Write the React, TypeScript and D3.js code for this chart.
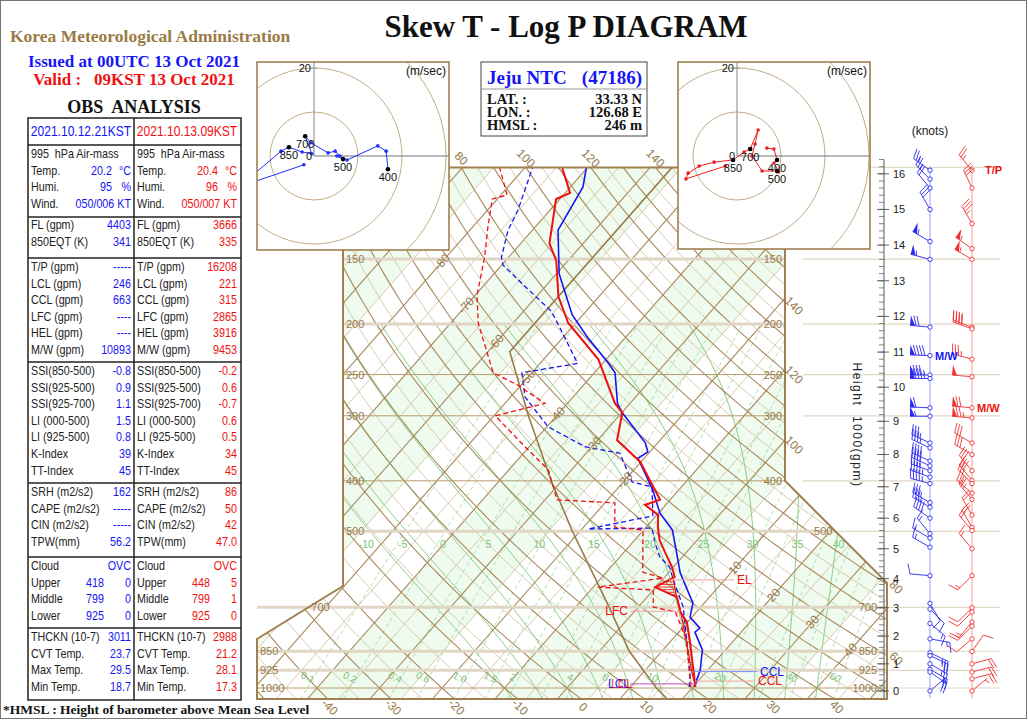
import React from 'react';
import * as d3 from 'd3';

// ---------- sounding, 2021.10.13 09KST (current, red) ----------
const curTempP = [995, 911, 809, 747, 714, 669, 640, 612, 586, 550, 520, 491, 465, 445, 435, 399, 368, 334, 296, 284, 234, 199, 177, 151, 140, 115, 112, 100];
const curTempT = [20.4, 17.2, 12.9, 9.9, 7.4, 4.8, -0.1, 1.6, -0.2, -3.3, -6.0, -8.1, -9.8, -13.3, -11.6, -16.0, -20.1, -26.9, -29.9, -32.4, -41.2, -51.2, -56.5, -61.9, -65.4, -70.6, -69.2, -74.1];
const curDewP = [995, 809, 714, 699, 648, 640, 615, 599, 497, 491, 441, 435, 381, 344, 300, 284, 262, 248, 199, 176, 149, 130, 115, 113, 100];
const curDewT = [19.6, 12.4, 6.6, 2.4, 0.0, -9.3, -0.1, -4.2, -10.1, -15.0, -18.4, -28.1, -33.7, -40.7, -49.8, -43.6, -50.5, -56.2, -65.6, -69.7, -73.8, -77.6, -80.8, -79.0, -84.1];
const parcelP = [995, 936, 809, 718, 663, 620];
const parcelT = [20.4, 17.9, 12.3, 7.7, 4.4, 1.8];

// ---------- sounding, 2021.10.12 21KST (previous, blue) ----------
const prevTempP = [995, 924, 845, 781, 767, 731, 687, 601, 560, 497, 461, 417, 362, 352, 338, 296, 284, 248, 237, 212, 192, 160, 132, 109, 100];
const prevTempT = [20.2, 18.8, 16.3, 12.6, 12.8, 9.7, 8.2, 1.9, -0.8, -5.4, -9.8, -14.1, -21.0, -20.3, -22.0, -29.9, -32.0, -36.7, -39.3, -46.1, -51.7, -59.6, -65.9, -68.0, -70.2];
const prevDewP = [995, 936, 809, 699, 620, 586, 560, 527, 493, 495, 467, 411, 402, 354, 344, 315, 276, 248, 238, 217, 194, 188, 167, 154, 149, 132, 121, 100];
const prevDewT = [19.4, 17.6, 12.4, 7.2, 1.8, -0.6, -3.6, -6.3, -8.9, -19.0, -10.5, -14.7, -18.6, -24.6, -31.1, -39.8, -47.7, -51.6, -44.0, -48.6, -54.2, -55.9, -64.2, -69.8, -71.1, -73.9, -75.1, -78.8];

// ICAO standard atmosphere (drawn as reference line)
const stdAtmP = [1050, 1000, 850, 700, 500, 400, 300, 226, 100];
const stdAtmT = [17.6, 14.3, 4.8, -4.6, -21.2, -31.7, -44.5, -56.5, -56.5];

// ---------- diagram labels ----------
const pressureLevels = [150, 200, 250, 300, 400, 500, 700, 850, 925, 1000];
const heavyLevels = [150, 200, 500, 700, 850, 925];
const isothermLabels = [-80, -70, -60, -50, -40, -30, -20, 10, 20, 30, 40];
const isothermLabelP = [152, 184, 217, 254, 299, 341, 399, 588, 663, 747, 845];
const thetaBottom = [-40, -30, -20, -10, 0, 10, 20, 30, 40];
const thetaTop = [80, 100, 120, 140];
const thetaRight = [140, 120, 100, 80, 60];
const thetaW = [-10, -5, 0, 5, 10, 15, 20, 25, 30, 35, 40];
const mixRatios = [0.1, 0.2, 0.4, 0.6, 1, 1.5, 2, 3, 4, 6, 8, 10, 15, 20, 30, 40, 50, 60];
const mixLabels = ['0.1', '0.2', '0.4', '0.6', '1.0', '1.5', '2', '', '4', '6', '', '10', '', '20', '', '40', '', '60'];
const greenBandStart = [-100, -70, -40, -10, 20, 50];
const greenBandWidth = 15;

// ---------- hodographs (m/s) ----------
const prevHodoU = [-2.3, -17, -7.5, -5.7, -2.7, -0.5, -2.0, -0.7, 3.2, 4.8, 5.9, 5.2, 6.6, 7.5, 14.5, 16.4, 16.8];
const prevHodoV = [-2.0, -7, 1.1, 2.0, 0.9, 0.5, 4.5, 3.0, 0.7, 1.1, 0.0, 0.0, -0.7, -0.9, 2.3, 1.1, -3.0];
const prevHodoKeys: [string, number, number][] = [['850', -5.7, 2.0], ['700', -2.0, 4.5], ['500', 6.6, -0.7], ['400', 16.8, -3.0]];
const curHodoU = [-2.7, -11.6, -11.1, -8.6, -5.2, -0.9, 1.6, 3.0, 4.8, 4.1, 3.4, 5.7, 9.1, 9.5, 8.4, 9.1, 8.4, 6.8];
const curHodoV = [-2.3, -5.2, -3.9, -2.3, -1.4, -0.9, 0.9, 1.6, 5.9, 2.7, 0.0, -3.4, -3.4, -3.6, -1.6, -0.9, 1.6, 1.8];
const curHodoKeys: [string, number, number][] = [['850', -0.9, -0.9], ['700', 3.0, 1.6], ['500', 9.1, -3.4], ['400', 9.1, -0.9]];

// ---------- winds (km, direction, knots) ----------
const prevWinds: [number, number, number][] = [
  [16.1, 305, 25], [15.85, 315, 25], [15.6, 320, 20], [15.0, 330, 30], [14.1, 300, 55], [13.6, 285, 55],
  [11.7, 275, 70], [10.9, 272, 90], [10.35, 270, 85], [10.25, 270, 85], [9.4, 272, 60], [9.15, 270, 55],
  [8.35, 295, 35], [8.2, 295, 35], [7.8, 295, 40], [7.65, 295, 40], [7.5, 290, 40], [7.3, 290, 45], [7.1, 285, 45],
  [6.5, 300, 35], [6.35, 300, 35], [6.0, 305, 40], [5.5, 320, 15], [5.35, 300, 15], [5.05, 300, 15],
  [4.1, 275, 10], [3.15, 150, 10], [2.95, 135, 10], [2.45, 130, 15], [1.9, 100, 15], [1.4, 115, 25],
  [1.3, 115, 25], [1.0, 120, 25], [0.8, 120, 20], [0.7, 125, 20], [0.0, 50, 6],
];
const curWinds: [number, number, number][] = [
  [16.1, 320, 25], [15.6, 335, 30], [14.6, 330, 35], [13.9, 305, 55], [13.6, 300, 55],
  [11.7, 290, 40], [11.65, 290, 40], [10.8, 285, 35], [10.3, 275, 50], [9.4, 275, 70], [9.1, 275, 75],
  [8.35, 300, 30], [8.0, 300, 30], [7.5, 320, 30], [7.2, 320, 30], [7.1, 315, 25], [6.8, 310, 25], [6.6, 320, 25],
  [6.1, 330, 20], [5.7, 330, 20], [5.6, 320, 20], [5.0, 320, 15], [4.1, 225, 15], [3.0, 225, 10], [2.85, 225, 10],
  [2.5, 220, 15], [2.35, 225, 15], [1.9, 230, 10], [1.45, 35, 10], [1.0, 75, 20], [0.7, 75, 20], [0.45, 75, 20], [0.0, 50, 7],
];
const heightTicks = d3.range(0, 17);

// ---------- obs table ----------
const tableHeads = ['2021.10.12.21KST', '2021.10.13.09KST'];
const airLabels = ['Temp.', 'Humi.', 'Wind.'];
const prevAir = ['20.2', '95', '050/006 KT'];
const curAir = ['20.4', '96', '050/007 KT'];
const airUnits = ['°C', '%', ''];
const secLabels = [
  ['FL (gpm)', '850EQT (K)'],
  ['T/P (gpm)', 'LCL (gpm)', 'CCL (gpm)', 'LFC (gpm)', 'HEL (gpm)', 'M/W (gpm)'],
  ['SSI(850-500)', 'SSI(925-500)', 'SSI(925-700)', 'LI (000-500)', 'LI (925-500)', 'K-Index', 'TT-Index'],
  ['SRH (m2/s2)', 'CAPE (m2/s2)', 'CIN (m2/s2)', 'TPW(mm)'],
];
const prevSec = [['4403', '341'], ['-----', '246', '663', '----', '----', '10893'], ['-0.8', '0.9', '1.1', '1.5', '0.8', '39', '45'], ['162', '-----', '-----', '56.2']];
const curSec = [['3666', '335'], ['16208', '221', '315', '2865', '3916', '9453'], ['-0.2', '0.6', '-0.7', '0.6', '0.5', '34', '45'], ['86', '50', '42', '47.0']];
const cloudLabels = ['Upper', 'Middle', 'Lower'];
const prevCloud = [['418', '0'], ['799', '0'], ['925', '0']];
const curCloud = [['448', '5'], ['799', '1'], ['925', '0']];
const thickLabels = ['THCKN (10-7)', 'CVT Temp.', 'Max Temp.', 'Min Temp.'];
const prevThick = ['3011', '23.7', '29.5', '18.7'];
const curThick = ['2988', '21.2', '28.1', '17.3'];

const SERIF = "'Liberation Serif', 'Times New Roman', serif";
const SANS = "'Liberation Sans', Arial, sans-serif";
const BLUE = '#1515f5';
const RED = '#f01010';
const BROWN = '#a08050';
const LABEL_BROWN = '#96784a';

// log-p skew-T geometry
const yP = d3.scaleLog().domain([1000, 100]).range([688, 688 - 226.1 * Math.LN10]);
const tX = d3.scaleLinear().domain([0, 10]).range([567, 629.5]);
const SKEW = 0.88;
const sx = (T: number, p: number) => tX(T) + SKEW * (688 - yP(p));
const Y_TOP = yP(100);
const Y_BOT = yP(1050);
const rightEdge = (y: number) => (y <= yP(400) ? 785 : y <= yP(400) + 102 ? 785 + (y - yP(400)) : 887);
const leftEdge = (y: number) => (y <= 586 ? 343 : y <= 639 ? 343 - ((y - 586) * 86) / 53 : 257);
const frame: [number, number][] = [[343, Y_TOP], [785, Y_TOP], [785, yP(400)], [887, yP(400) + 102], [887, Y_BOT], [257, Y_BOT], [257, 639], [343, 586]];

const dryT = (th: number, p: number) => (th + 273.15) * Math.pow(p / 1000, 0.2857) - 273.15;
function dTdp(T: number, p: number) {
  const Tk = T + 273.15;
  const es = 6.112 * Math.exp((17.67 * T) / (T + 243.5));
  const rs = (0.622 * es) / (p - es);
  return (287.04 * Tk + 2.501e6 * rs) / (p * (1005.7 + (2.501e6 * 2.501e6 * rs * 0.622) / (287.04 * Tk * Tk)));
}
function moistCurve(tw: number): [number, number][] {
  const up: [number, number][] = [];
  let T = tw;
  for (let p = 1000; p >= 200; p -= 5) {
    up.push([p, T]);
    const k1 = dTdp(T, p);
    const k2 = dTdp(T - 2.5 * k1, p - 2.5);
    T -= 5 * k2;
  }
  const down: [number, number][] = [];
  T = tw;
  for (let p = 1000; p < 1050; p += 5) {
    const k1 = dTdp(T, p);
    T += 5 * dTdp(T + 2.5 * k1, p + 2.5);
    down.unshift([p + 5, T]);
  }
  return [...down, ...up];
}
const mixT = (w: number, p: number) => {
  const e = (w * p) / (622 + w);
  const l = Math.log(e / 6.112);
  return (243.5 * l) / (17.67 - l);
};
function interpT(P: number[], T: number[], p: number) {
  for (let i = 0; i < P.length - 1; i++) {
    if (p <= P[i] && p >= P[i + 1]) {
      const f = Math.log(P[i] / p) / Math.log(P[i] / P[i + 1]);
      return T[i] + f * (T[i + 1] - T[i]);
    }
  }
  return NaN;
}

const profLine = (P: number[], T: number[]) =>
  d3.line<number>().x((_, i) => sx(T[i], P[i])).y((_, i) => yP(P[i]))(P) || '';

// condensed text (the table uses a narrow face)
function NText({ x, y, fill, anchor, size = 12.5, children }: { x: number; y: number; fill: string; anchor?: string; size?: number; children: React.ReactNode }) {
  return (
    <text transform={`translate(${x},${y}) scale(0.86,1)`} fill={fill} fontSize={size} fontFamily={SANS} textAnchor={anchor || 'start'} style={{ whiteSpace: 'pre' }}>
      {children}
    </text>
  );
}

function Diagram() {
  const pAll = d3.range(1050, 99, -10);
  const isotherms = d3.range(-160, 65, 5);
  const dryLines = d3.range(-60, 265, 5);
  const moist = thetaW.map((tw) => moistCurve(tw));
  const curveLine = d3.line<[number, number]>().x((d) => sx(d[1], d[0])).y((d) => yP(d[0]));
  const mixP = d3.range(1050, 195, -25);

  const hatch: { y: number; x1: number; x2: number; warm: boolean }[] = [];
  for (let y = yP(parcelP[0]) - 1; y >= yP(parcelP[parcelP.length - 1]); y -= 2.6) {
    const p = yP.invert(y);
    const te = interpT(curTempP, curTempT, p);
    const tp = interpT(parcelP, parcelT, p);
    if (isNaN(te) || isNaN(tp)) continue;
    hatch.push({ y, x1: sx(te, p), x2: sx(tp, p), warm: tp > te });
  }

  const markers = [
    { name: 'LFC', p: 712, color: RED, side: 'left', x0: 628 },
    { name: 'EL', p: 620, color: RED, side: 'right', x0: 737 },
    { name: 'CCL', p: 930, color: BLUE, side: 'right', x0: 760 },
    { name: 'CCL', p: 970, color: RED, side: 'right', x0: 758 },
  ];
  const clipPts = frame.map((d) => d.join(',')).join(' ');

  return (
    <g>
      <defs>
        <clipPath id="skewClip">
          <polygon points={clipPts} />
        </clipPath>
      </defs>
      <polygon points={clipPts} fill="#fff" />
      <g clipPath="url(#skewClip)">
        {greenBandStart.map((t) => (
          <polygon
            key={'b' + t}
            points={[[sx(t, 1050), Y_BOT], [sx(t + greenBandWidth, 1050), Y_BOT], [sx(t + greenBandWidth, 100), Y_TOP], [sx(t, 100), Y_TOP]].map((d) => d.join(',')).join(' ')}
            fill="#effbee"
          />
        ))}
        {mixRatios.map((w) => (
          <path key={'w' + w} d={d3.line<number>().x((p) => sx(mixT(w, p), p)).y((p) => yP(p))(mixP) || ''} fill="none" stroke="#9bd89b" strokeWidth={0.8} strokeDasharray="4,3" />
        ))}
        {moist.map((c, i) => (
          <path key={'m' + i} d={curveLine(c) || ''} fill="none" stroke="#86cc86" strokeWidth={1} />
        ))}
        {isotherms.map((t) => (
          <line key={'t' + t} x1={sx(t, 1050)} y1={Y_BOT} x2={sx(t, 100)} y2={Y_TOP} stroke={t % 10 === 0 ? '#a8895a' : '#c9b48e'} strokeWidth={t % 10 === 0 ? 1.1 : 0.7} />
        ))}
        {dryLines.map((th) => (
          <path key={'d' + th} d={d3.line<number>().x((p) => sx(dryT(th, p), p)).y((p) => yP(p))(pAll) || ''} fill="none" stroke={th % 10 === 0 ? '#a8895a' : '#c9b48e'} strokeWidth={th % 10 === 0 ? 1.1 : 0.7} />
        ))}
        {pressureLevels.map((p) => (
          <line key={'p' + p} x1={250} x2={900} y1={yP(p)} y2={yP(p)} stroke={heavyLevels.includes(p) ? '#e0d6c4' : '#b89c6c'} strokeWidth={heavyLevels.includes(p) ? 3 : 1} />
        ))}
        <path d={profLine(stdAtmP, stdAtmT)} fill="none" stroke="#9a7a48" strokeWidth={1.6} />
        {hatch.map((h, i) => (
          <line key={'h' + i} x1={h.x1} x2={h.x2} y1={h.y} y2={h.y} stroke={h.warm ? RED : '#222'} strokeWidth={0.8} strokeDasharray={h.warm ? undefined : '1.5,1'} />
        ))}
        <path d={profLine(prevDewP, prevDewT)} fill="none" stroke={BLUE} strokeWidth={1.3} strokeDasharray="5,3" />
        <path d={profLine(curDewP, curDewT)} fill="none" stroke={RED} strokeWidth={1.3} strokeDasharray="5,3" />
        <path d={profLine(prevTempP, prevTempT)} fill="none" stroke={BLUE} strokeWidth={1.6} />
        <path d={profLine(parcelP, parcelT)} fill="none" stroke={RED} strokeWidth={1.2} />
        <path d={profLine(curTempP, curTempT)} fill="none" stroke={RED} strokeWidth={2} />
      </g>
      <line x1={257} x2={leftEdge(yP(700))} y1={yP(700)} y2={yP(700)} stroke="#e0d6c4" strokeWidth={3} />
      <polygon points={clipPts} fill="none" stroke={BROWN} strokeWidth={2} />

      {/* lifted levels */}
      <line x1={630} x2={sx(20.2, 982)} y1={yP(982)} y2={yP(982)} stroke="#c050c0" strokeWidth={1} />
      <text x={608} y={yP(982) + 4} fill={BLUE} fontSize={12} fontFamily={SANS}>LCL</text>
      <text x={611} y={yP(982) + 4} fill={RED} fontSize={12} fontFamily={SANS} opacity={0.8}>LCL</text>
      {markers.map((m, i) => {
        const y = yP(m.p);
        const xp = sx(interpT(curTempP, curTempT, m.p), m.p);
        return (
          <g key={'mk' + i}>
            {m.side === 'left' ? (
              <line x1={m.x0 + 2} x2={xp} y1={y} y2={y} stroke="#f2a0a0" strokeWidth={1} />
            ) : (
              <line x1={xp} x2={m.x0 - 3} y1={y} y2={y} stroke={m.color === BLUE ? '#8090ff' : '#f2a0a0'} strokeWidth={1} />
            )}
            <text x={m.x0} y={y + 4} fill={m.color} fontSize={12} fontFamily={SANS} textAnchor={m.side === 'left' ? 'end' : 'start'}>
              {m.name}
            </text>
          </g>
        );
      })}

      {/* pressure labels */}
      {pressureLevels.map((p) => {
        const y = yP(p);
        const xr = Math.min(rightEdge(y) - 3, 877);
        return (
          <g key={'pl' + p} fontSize={11} fontFamily={SANS} fill={LABEL_BROWN}>
            <text x={leftEdge(y) + 3} y={y + 4}>{p}</text>
            <text x={xr} y={y + 4} textAnchor="end">{p}</text>
          </g>
        );
      })}
      {isothermLabels.map((t, i) => {
        const p = isothermLabelP[i];
        const x = sx(t, p);
        const y = yP(p);
        return (
          <text key={'il' + t} x={x} y={y + 4} fontSize={12} fontFamily={SANS} fill={LABEL_BROWN} textAnchor="middle" transform={`rotate(-48 ${x} ${y})`}>
            {t}
          </text>
        );
      })}
      {thetaBottom.map((th) => {
        const x = sx(dryT(th, 1050), 1050) + 2;
        return (
          <text key={'tb' + th} x={x} y={Y_BOT + 12} fontSize={12} fontFamily={SANS} fill={LABEL_BROWN} textAnchor="middle" transform={`rotate(45 ${x} ${Y_BOT + 8})`}>
            {th}
          </text>
        );
      })}
      {thetaTop.map((th) => {
        const x = sx(dryT(th, 100), 100);
        return (
          <text key={'tt' + th} x={x} y={Y_TOP - 5} fontSize={12} fontFamily={SANS} fill={LABEL_BROWN} textAnchor="middle" transform={`rotate(45 ${x} ${Y_TOP - 9})`}>
            {th}
          </text>
        );
      })}
      {thetaRight.map((th) => {
        let pc = 100;
        for (let p = 100; p <= 1050; p += 1) {
          if (sx(dryT(th, p), p) >= rightEdge(yP(p))) { pc = p; break; }
        }
        const x = rightEdge(yP(pc)) + 9;
        const y = yP(pc) + 3;
        return (
          <text key={'tr' + th} x={x} y={y + 4} fontSize={12} fontFamily={SANS} fill={LABEL_BROWN} textAnchor="middle" transform={`rotate(45 ${x} ${y})`}>
            {th}
          </text>
        );
      })}
      {thetaW.map((tw, i) => {
        const c = moist[i];
        const pt = c.find((d) => d[0] <= 490) || c[0];
        return (
          <text key={'tw' + tw} x={sx(pt[1], pt[0])} y={yP(529) + 4} fontSize={10.5} fontFamily={SANS} fill="#7cc47c" textAnchor="middle">
            {tw}
          </text>
        );
      })}
      {mixRatios.map((w, i) =>
        mixLabels[i] ? (
          <text key={'wl' + w} x={sx(mixT(w, 952), 952) - 6} y={yP(952) + 4} fontSize={10} fontFamily={SANS} fill="#7cc47c" textAnchor="middle" transform={`rotate(25 ${sx(mixT(w, 952), 952) - 6} ${yP(952)})`}>
            {mixLabels[i]}
          </text>
        ) : null
      )}
    </g>
  );
}

function Hodograph({ x0, y0, w, h, cx, cy, U, V, keys, color, id }: { x0: number; y0: number; w: number; h: number; cx: number; cy: number; U: number[]; V: number[]; keys: [string, number, number][]; color: string; id: string }) {
  const r = d3.scaleLinear().domain([0, 10]).range([0, 44]);
  const pts = U.map((u, i) => [cx + r(u), cy - r(V[i])] as [number, number]);
  return (
    <g>
      <defs>
        <clipPath id={id}>
          <rect x={x0} y={y0} width={w} height={h} />
        </clipPath>
      </defs>
      <rect x={x0} y={y0} width={w} height={h} fill="#fff" />
      <g clipPath={`url(#${id})`}>
        {[10, 20, 30].map((s) => (
          <circle key={s} cx={cx} cy={cy} r={r(s)} fill="none" stroke="#c4ad88" strokeWidth={1} />
        ))}
        <line x1={cx} x2={cx} y1={y0} y2={cy} stroke="#999" strokeWidth={1.2} />
        <line x1={cx} x2={x0 + w} y1={cy} y2={cy} stroke="#777" strokeWidth={1} />
        <line x1={cx - 3} x2={cx + 3} y1={cy - r(20)} y2={cy - r(20)} stroke="#999" />
        <path d={d3.line()(pts) || ''} fill="none" stroke={color} strokeWidth={1} />
        {pts.map((p, i) => (
          <circle key={i} cx={p[0]} cy={p[1]} r={1.8} fill={color} />
        ))}
        {keys.map((k) => (
          <g key={k[0]}>
            <circle cx={cx + r(k[1])} cy={cy - r(k[2])} r={2.3} fill="#000" />
            <text x={cx + r(k[1])} y={cy - r(k[2]) + 12} fontSize={11} fontFamily={SANS} textAnchor="middle" fill="#111">
              {k[0]}
            </text>
          </g>
        ))}
        <text x={cx - 2} y={cy + 4} fontSize={11} fontFamily={SANS} textAnchor="end" fill="#111">0</text>
        <text x={cx - 3} y={cy - r(20) + 4} fontSize={11} fontFamily={SANS} textAnchor="end" fill="#111">20</text>
        <text x={x0 + w - 3} y={y0 + 13} fontSize={12} fontFamily={SANS} textAnchor="end" fill="#111">(m/sec)</text>
      </g>
      <rect x={x0} y={y0} width={w} height={h} fill="none" stroke={BROWN} strokeWidth={1.6} />
    </g>
  );
}

function Barb({ x, y, dir, spd, color }: { x: number; y: number; dir: number; spd: number; color: string }) {
  const L = 20;
  const a = (dir * Math.PI) / 180;
  const ux = Math.sin(a);
  const uy = -Math.cos(a);
  const px = -uy;
  const py = ux;
  const tx = x + ux * L;
  const ty = y + uy * L;
  let s = Math.round(spd / 5) * 5;
  let pos = 0;
  const lines: string[] = [];
  const polys: string[] = [];
  while (s >= 50) {
    const ax = tx - ux * pos, ay = ty - uy * pos;
    const bx = tx - ux * (pos + 5), by = ty - uy * (pos + 5);
    polys.push(`${ax},${ay} ${ax + px * 10},${ay + py * 10} ${bx},${by}`);
    pos += 6;
    s -= 50;
  }
  while (s >= 10) {
    const ax = tx - ux * pos, ay = ty - uy * pos;
    lines.push(`M${ax},${ay}L${ax + px * 10 + ux * 3},${ay + py * 10 + uy * 3}`);
    pos += 3;
    s -= 10;
  }
  if (s >= 5) {
    if (pos === 0) pos = 3;
    const ax = tx - ux * pos, ay = ty - uy * pos;
    lines.push(`M${ax},${ay}L${ax + px * 5 + ux * 1.5},${ay + py * 5 + uy * 1.5}`);
  }
  return (
    <g stroke={color} strokeWidth={0.9} fill="none">
      <line x1={x} y1={y} x2={tx} y2={ty} />
      {lines.map((d, i) => (
        <path key={i} d={d} />
      ))}
      {polys.map((d, i) => (
        <polygon key={'p' + i} points={d} fill={color} stroke="none" />
      ))}
      <circle cx={x} cy={y} r={2.2} fill="#fff" />
    </g>
  );
}

const stdP = (km: number) => (km <= 11 ? 1013.25 * Math.pow(1 - (0.0065 * km * 1000) / 288.15, 5.2559) : 226.32 * Math.exp((-(km - 11) * 1000) / 6341.6));
const yKm = (km: number) => yP(stdP(km));

function WindPanel() {
  const minor = d3.range(0, 16.41, 0.2);
  const bx = 930;
  const rx = 972;
  return (
    <g>
      {[100, ...pressureLevels].map((p) => (
        <line key={p} x1={Math.max(803, rightEdge(yP(p)) + 2)} x2={1000} y1={yP(p)} y2={yP(p)} stroke="#e2d8c6" strokeWidth={1.2} />
      ))}
      <line x1={884} x2={884} y1={yKm(16.4)} y2={698} stroke="#555" strokeWidth={1} />
      {minor.map((k, i) => (
        <line key={i} x1={879} x2={884} y1={yKm(k)} y2={yKm(k)} stroke="#666" strokeWidth={0.8} />
      ))}
      {heightTicks.map((k) => (
        <g key={k}>
          <line x1={877} x2={889} y1={yKm(k)} y2={yKm(k)} stroke="#555" strokeWidth={0.9} />
          <text x={893} y={yKm(k) + 4} fontSize={11} fontFamily={SANS} fill="#222">{k}</text>
        </g>
      ))}
      <text x={930} y={135} fontSize={12} fontFamily={SANS} textAnchor="middle" fill="#222">(knots)</text>
      <text x={853} y={425} fontSize={12} fontFamily={SANS} textAnchor="middle" fill="#222" letterSpacing={1.5} transform="rotate(90 853 425)" style={{ whiteSpace: 'pre' }}>
        {'Height  1000(gpm)'}
      </text>
      <line x1={bx} x2={bx} y1={yKm(16.2)} y2={698} stroke="#9aa0ff" strokeWidth={1} />
      <line x1={rx} x2={rx} y1={yKm(16.2)} y2={698} stroke="#ff9a9a" strokeWidth={1} />
      {prevWinds.map((d, i) => (
        <Barb key={'pw' + i} x={bx} y={yKm(d[0])} dir={d[1]} spd={d[2]} color="#2a2af0" />
      ))}
      {curWinds.map((d, i) => (
        <Barb key={'cw' + i} x={rx} y={yKm(d[0])} dir={d[1]} spd={d[2]} color="#f03030" />
      ))}
      <text x={985} y={yKm(16.1) + 4} fontSize={11} fontWeight="bold" fontFamily={SANS} fill={RED}>T/P</text>
      <text x={935} y={yKm(10.9) + 4} fontSize={11} fontWeight="bold" fontFamily={SANS} fill={BLUE}>M/W</text>
      <text x={977} y={yKm(9.4) + 4} fontSize={11} fontWeight="bold" fontFamily={SANS} fill={RED}>M/W</text>
    </g>
  );
}

function ObsTable() {
  const L = 28, M = 134, R = 241;
  const secTops = [145, 217, 258, 362, 483, 557, 628, 700];
  const rowY = (s: number, i: number) => secTops[s] + 13 + i * 16.6;
  const cols = [
    { x: L, color: BLUE, air: prevAir, sec: prevSec, cloud: prevCloud, thick: prevThick },
    { x: M, color: RED, air: curAir, sec: curSec, cloud: curCloud, thick: curThick },
  ];
  return (
    <g>
      <rect x={L} y={118} width={R - L} height={700 - 118} fill="none" stroke="#222" strokeWidth={1.5} />
      <line x1={M} x2={M} y1={118} y2={700} stroke="#222" strokeWidth={1.5} />
      {secTops.slice(0, 7).map((y) => (
        <line key={y} x1={L} x2={R} y1={y} y2={y} stroke="#222" strokeWidth={1.5} />
      ))}
      {cols.map((c, ci) => {
        const vx = c.x + 103;
        const lx = c.x + 3;
        return (
          <g key={ci}>
            <NText x={c.x + 53} y={136} fill={c.color} anchor="middle" size={14}>{tableHeads[ci]}</NText>
            <NText x={lx} y={rowY(0, 0)} fill="#222">{'995  hPa Air-mass'}</NText>
            {airLabels.map((lb, i) => (
              <g key={lb}>
                <NText x={lx} y={rowY(0, i + 1)} fill="#222">{lb}</NText>
                <NText x={i === 2 ? vx : c.x + 84} y={rowY(0, i + 1)} fill={c.color} anchor="end">{c.air[i]}</NText>
                {airUnits[i] && <NText x={vx} y={rowY(0, i + 1)} fill={c.color} anchor="end">{airUnits[i]}</NText>}
              </g>
            ))}
            {secLabels.map((labels, s) =>
              labels.map((lb, i) => (
                <g key={lb}>
                  <NText x={lx} y={rowY(s + 1, i) - (s === 0 ? 1 : 0)} fill="#222">{lb}</NText>
                  <NText x={vx} y={rowY(s + 1, i) - (s === 0 ? 1 : 0)} fill={c.color} anchor="end">{c.sec[s][i]}</NText>
                </g>
              ))
            )}
            <NText x={lx} y={rowY(5, 0)} fill="#222">Cloud</NText>
            <NText x={vx} y={rowY(5, 0)} fill={c.color} anchor="end">OVC</NText>
            {cloudLabels.map((lb, i) => (
              <g key={lb}>
                <NText x={lx} y={rowY(5, i + 1)} fill="#222">{lb}</NText>
                <NText x={c.x + 76} y={rowY(5, i + 1)} fill={c.color} anchor="end">{c.cloud[i][0]}</NText>
                <NText x={vx} y={rowY(5, i + 1)} fill={c.color} anchor="end">{c.cloud[i][1]}</NText>
              </g>
            ))}
            {thickLabels.map((lb, i) => (
              <g key={lb}>
                <NText x={lx} y={rowY(6, i)} fill="#222">{lb}</NText>
                <NText x={vx} y={rowY(6, i)} fill={c.color} anchor="end">{c.thick[i]}</NText>
              </g>
            ))}
          </g>
        );
      })}
    </g>
  );
}

export default function App() {
  return (
    <svg width={1028} height={723} viewBox="0 0 1028 723" style={{ position: 'absolute', left: 0, top: 0, display: 'block', background: '#fff' }}>
      <rect x={0} y={0} width={1028} height={723} fill="#fff" />
      <rect x={0.5} y={0.5} width={1026} height={718} fill="none" stroke="#777" strokeWidth={1} />
      <text x={10} y={42} fontFamily={SERIF} fontWeight="bold" fontSize={17.5} fill="#9a7b45">Korea Meteorological Administration</text>
      <text x={134} y={67} fontFamily={SERIF} fontWeight="bold" fontSize={17} fill={BLUE} textAnchor="middle">Issued at 00UTC 13 Oct 2021</text>
      <text x={134} y={85} fontFamily={SERIF} fontWeight="bold" fontSize={17} fill={RED} textAnchor="middle" style={{ whiteSpace: 'pre' }}>{'Valid :   09KST 13 Oct 2021'}</text>
      <text x={134} y={113} fontFamily={SERIF} fontWeight="bold" fontSize={18} fill="#111" textAnchor="middle" style={{ whiteSpace: 'pre' }}>{'OBS  ANALYSIS'}</text>
      <text x={566} y={37} fontFamily={SERIF} fontWeight="bold" fontSize={31} fill="#111" textAnchor="middle">Skew T - Log P DIAGRAM</text>
      <ObsTable />
      <Diagram />
      <WindPanel />
      <Hodograph id="hodoL" x0={257} y0={62} w={192} h={188} cx={314} cy={156} U={prevHodoU} V={prevHodoV} keys={prevHodoKeys} color="#2030ff" />
      <Hodograph id="hodoR" x0={678} y0={62} w={192} h={187} cx={737} cy={156} U={curHodoU} V={curHodoV} keys={curHodoKeys} color="#f02020" />
      <g fontFamily={SERIF} fontWeight="bold">
        <rect x={481} y={62} width={166} height={74} fill="#fff" stroke="#444" strokeWidth={1} />
        <line x1={481} x2={647} y1={89} y2={89} stroke="#999" />
        <text x={487} y={84} fontSize={19} fill={BLUE}>Jeju NTC</text>
        <text x={642} y={84} fontSize={19} fill={BLUE} textAnchor="end">(47186)</text>
        {[['LAT.  :', '33.33 N'], ['LON.  :', '126.68 E'], ['HMSL  :', '246 m']].map((r, i) => (
          <g key={r[0]} fontSize={14.5} fill="#111" style={{ whiteSpace: 'pre' }}>
            <text x={487} y={104 + i * 13}>{r[0]}</text>
            <text x={642} y={104 + i * 13} textAnchor="end">{r[1]}</text>
          </g>
        ))}
      </g>
      <text x={3} y={714} fontFamily={SERIF} fontWeight="bold" fontSize={13.5} fill="#111">*HMSL : Height of barometer above Mean Sea Level</text>
    </svg>
  );
}
